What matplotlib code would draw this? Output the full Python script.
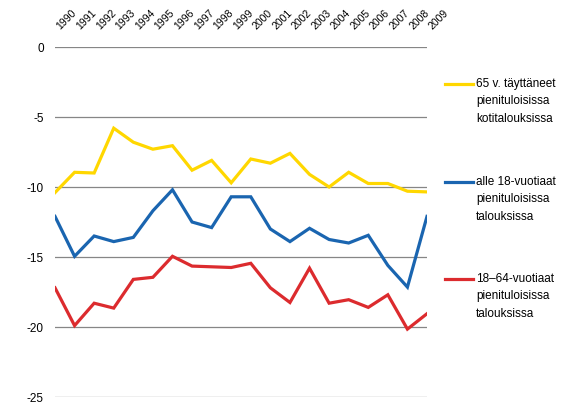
import numpy as np
import matplotlib
matplotlib.use('Agg')
import matplotlib.pyplot as plt
from matplotlib.lines import Line2D

plt.rcParams['font.family'] = ['Liberation Sans', 'DejaVu Sans']

years = [str(y) for y in range(1990, 2010)]
yli65 = [-10.4, -8.95, -9.0, -5.8, -6.8, -7.3, -7.05, -8.8, -8.1, -9.7,
         -8.0, -8.3, -7.6, -9.1, -10.0, -8.95, -9.75, -9.75, -10.3, -10.35]
alle18 = [-12.1, -14.95, -13.5, -13.9, -13.6, -11.7, -10.2, -12.5, -12.9, -10.7,
          -10.7, -13.0, -13.9, -12.95, -13.75, -14.0, -13.45, -15.6, -17.15, -12.1]
v18_64 = [-17.2, -19.9, -18.3, -18.65, -16.6, -16.45, -14.95, -15.65, -15.7, -15.75,
          -15.45, -17.2, -18.25, -15.8, -18.3, -18.05, -18.6, -17.7, -20.15, -19.05]
labels = ['65 v. täyttäneet\npienituloisissa\nkotitalouksissa',
          'alle 18-vuotiaat\npienituloisissa\ntalouksissa',
          '18\u201364-vuotiaat\npienituloisissa\ntalouksissa']
colors = ['#FFD700', '#1A65B0', '#DC2B2E']

W, H = 577, 410
fig = plt.figure(figsize=(W / 100, H / 100), dpi=100)
ax = fig.add_axes([55 / W, (H - 398) / H, (427 - 55) / W, 350 / H])

x = np.arange(len(years))
for ser, c in zip([yli65, alle18, v18_64], colors):
    ax.plot(x, ser, color=c, lw=2.3, solid_joinstyle='miter')

ax.set_xlim(0, len(years) - 1)
ax.set_ylim(-25, 0)
ax.set_yticks([0, -5, -10, -15, -20, -25])
ax.set_yticklabels(['0', '-5', '-10', '-15', '-20', '-25'], fontsize=8.5)
ax.yaxis.grid(True, color='#868686', lw=0.9)
ax.set_axisbelow(True)
for s in ax.spines.values():
    s.set_visible(False)
ax.tick_params(axis='y', length=0, pad=8)

ax.xaxis.tick_top()
ax.set_xticks(x)
ax.set_xticklabels(years, rotation=45, ha='left', va='bottom', fontsize=7.5,
                   rotation_mode='default')
ax.tick_params(axis='x', length=0, pad=12)

# legend drawn by hand to the right of the plot
leg_y = [85, 183, 280]
for lab, c, yy in zip(labels, colors, leg_y):
    yf = (H - yy) / H
    fig.add_artist(Line2D([445 / W, 473 / W], [yf, yf], color=c, lw=2.3,
                          transform=fig.transFigure))
    fig.text(476 / W, (H - yy + 7) / H, lab, fontsize=8.5, va='top', ha='left',
             linespacing=1.6)

fig.savefig('out.png', dpi=100)
